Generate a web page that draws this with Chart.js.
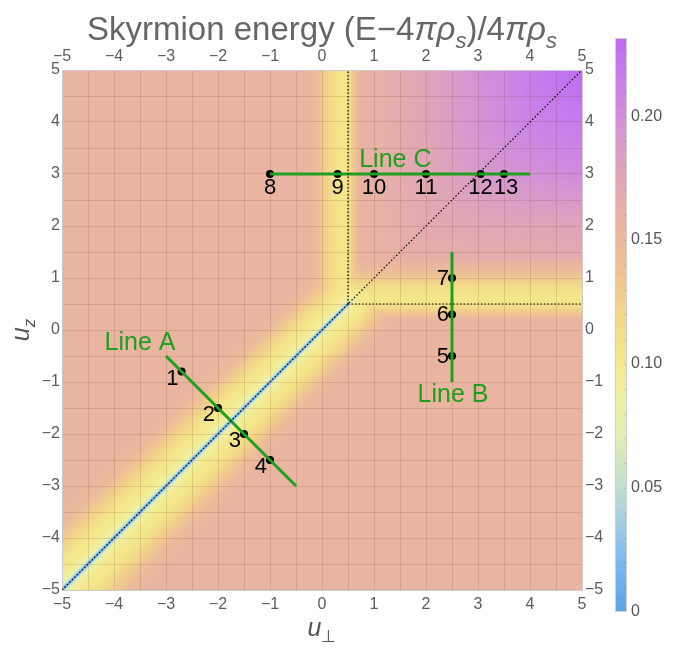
<!DOCTYPE html>
<html>
<head>
<meta charset="utf-8">
<script src="https://cdn.jsdelivr.net/npm/chart.js@4.4.1/dist/chart.umd.min.js"></script>
<style>
  html, body { margin: 0; padding: 0; background: #ffffff; }
  canvas { display: block; }
</style>
</head>
<body>
<canvas id="chart" width="681" height="649"></canvas>
<script>
// ---- axes ----
const axisMin = -5, axisMax = 5;
const colorbarTicks = [0, 0.05, 0.10, 0.15, 0.20];
const energyMax = 0.2315;

// ---- cut lines through the phase diagram ----
const lineAX = [-3, -0.5],  lineAY = [-0.5, -3];
const lineBX = [2.5, 2.5],  lineBY = [-1, 1.5];
const lineCX = [-1, 4],     lineCY = [3, 3];

// ---- numbered configurations along the cuts ----
const pointIds  = ['1', '2', '3', '4', '5', '6', '7', '8', '9', '10', '11', '12', '13'];
const pointLine = ['A', 'A', 'A', 'A', 'B', 'B', 'B', 'C', 'C', 'C', 'C', 'C', 'C'];
const pointX    = [-2.7, -2, -1.5, -1, 2.5, 2.5, 2.5, -1, 0.3, 1, 2, 3.05, 3.5];
const pointY    = [-0.8, -1.5, -2, -2.5, -0.5, 0.3, 1, 3, 3, 3, 3, 3, 3];

// ---- phase boundaries (dotted) ----
const junction = [0.5, 0.5];
const diagonalX = [-5, 5], diagonalY = [-5, 5];
const vertBoundX = [0.5, 0.5], vertBoundY = [0.5, 5];
const horzBoundX = [0.5, 5], horzBoundY = [0.5, 0.5];

// ---- energy landscape ----
const plateauEnergy = 0.155;
// rise in the upper-right quadrant, rows u_z = 0..5, columns u_perp = 0..5
const riseAxis = [0, 1, 2, 3, 4, 5];
const riseEnergy = [
  [0.155, 0.155, 0.155, 0.155, 0.155, 0.155],
  [0.155, 0.157, 0.158, 0.159, 0.160, 0.160],
  [0.155, 0.158, 0.170, 0.174, 0.176, 0.178],
  [0.155, 0.160, 0.174, 0.190, 0.200, 0.205],
  [0.155, 0.160, 0.176, 0.197, 0.212, 0.220],
  [0.155, 0.160, 0.177, 0.199, 0.218, 0.231]
];
// diagonal valley: energy vs perpendicular distance
const diagDist   = [0, 0.02, 0.05, 0.1, 0.2, 0.35, 0.5, 0.65, 0.85, 1.1];
const diagEnergy = [0.0, 0.03, 0.065, 0.09, 0.1, 0.105, 0.118, 0.132, 0.148, 0.155];
const diagWidthS = [-5, 0.5], diagWidth = [1.1, 0.85];
// vertical valley (u_perp near 0.42) and horizontal valley (u_z near 0.58)
const vertCentre = 0.42;
const vertDistL = [0, 0.12, 0.25, 0.38, 0.52, 0.7],        vertEnergyL = [0.104, 0.107, 0.117, 0.13, 0.145, 0.155];
const vertDistR = [0, 0.08, 0.15, 0.25, 0.35, 0.5],        vertEnergyR = [0.104, 0.11, 0.125, 0.145, 0.16, 0.19];
const horzCentre = 0.58;
const horzDistU = [0, 0.12, 0.25, 0.4, 0.55, 0.75, 0.95], horzEnergyU = [0.104, 0.107, 0.115, 0.13, 0.145, 0.158, 0.19];
const horzDistD = [0, 0.1, 0.2, 0.3, 0.42],               horzEnergyD = [0.104, 0.11, 0.125, 0.142, 0.155];

// ---- colour map ----
const paletteStops = [
  [0.000, '#5aa5ea'], [0.020, '#7cb8ee'], [0.035, '#a2cce4'], [0.050, '#c0ded0'],
  [0.070, '#e0eeb6'], [0.090, '#f1ef9e'], [0.105, '#f4e68a'], [0.125, '#f2d18a'],
  [0.140, '#eec096'], [0.155, '#e9b5a0'], [0.175, '#e0a6b6'], [0.195, '#d596d2'],
  [0.215, '#c880ea'], [0.2315, '#bc6cf2']
];
const paletteRGB = paletteStops.map(([v, h]) => [v, parseInt(h.slice(1, 3), 16), parseInt(h.slice(3, 5), 16), parseInt(h.slice(5, 7), 16)]);

function colourFor(e) {
  if (e <= paletteRGB[0][0]) return paletteRGB[0].slice(1);
  for (let i = 1; i < paletteRGB.length; i++) {
    if (e <= paletteRGB[i][0]) {
      const a = paletteRGB[i - 1], b = paletteRGB[i];
      const t = (e - a[0]) / (b[0] - a[0]);
      return [a[1] + (b[1] - a[1]) * t, a[2] + (b[2] - a[2]) * t, a[3] + (b[3] - a[3]) * t];
    }
  }
  return paletteRGB[paletteRGB.length - 1].slice(1);
}

function lookup(xs, ys, v) {
  if (v <= xs[0]) return ys[0];
  for (let i = 1; i < xs.length; i++) {
    if (v <= xs[i]) {
      const t = (v - xs[i - 1]) / (xs[i] - xs[i - 1]);
      return ys[i - 1] + (ys[i] - ys[i - 1]) * t;
    }
  }
  return ys[ys.length - 1];
}

// a valley only lowers the energy within its own profile
function valley(xs, ys, d) {
  return d > xs[xs.length - 1] ? Infinity : lookup(xs, ys, d);
}

function riseAt(p, z) {
  const last = riseAxis.length - 1;
  const fp = Math.min(Math.max(p, 0), riseAxis[last]);
  const fz = Math.min(Math.max(z, 0), riseAxis[last]);
  const i = Math.min(Math.floor(fp), last - 1), j = Math.min(Math.floor(fz), last - 1);
  const tp = fp - i, tz = fz - j;
  const e00 = riseEnergy[j][i], e10 = riseEnergy[j][i + 1];
  const e01 = riseEnergy[j + 1][i], e11 = riseEnergy[j + 1][i + 1];
  return (e00 * (1 - tp) + e10 * tp) * (1 - tz) + (e01 * (1 - tp) + e11 * tp) * tz;
}

function energyAt(p, z) {
  let e = (p > 0 && z > 0) ? riseAt(p, z) : plateauEnergy;
  // diagonal valley, ending at the junction
  const s = (p + z) / 2;
  const dDiag = s <= junction[0] ? Math.abs(p - z) / Math.SQRT2 : Math.hypot(p - junction[0], z - junction[1]);
  const w = lookup(diagWidthS, diagWidth, s);
  e = Math.min(e, valley(diagDist, diagEnergy, dDiag / w));
  // vertical valley above the junction
  const dx = p - vertCentre;
  const dv = z >= junction[1] ? Math.abs(dx) : Math.hypot(dx, junction[1] - z);
  e = Math.min(e, dx < 0 ? valley(vertDistL, vertEnergyL, dv) : valley(vertDistR, vertEnergyR, dv));
  // horizontal valley right of the junction
  const dz = z - horzCentre;
  const dh = p >= junction[0] ? Math.abs(dz) : Math.hypot(dz, junction[0] - p);
  e = Math.min(e, dz > 0 ? valley(horzDistU, horzEnergyU, dh) : valley(horzDistD, horzEnergyD, dh));
  return e;
}

// ---- fonts and colours ----
const FONT = "'Liberation Sans', Arial, Helvetica, sans-serif";
const textGrey = '#5c5c5c';
const green = '#1f9e1f';

// density plot painted beneath the grid
const densityPlugin = {
  id: 'density',
  beforeDraw(chart) {
    const { ctx, chartArea: a, scales } = chart;
    const xs = scales.x, ys = scales.y;
    const w = Math.round(a.right - a.left), h = Math.round(a.bottom - a.top);
    if (!this.img || this.w !== w || this.h !== h) {
      const off = document.createElement('canvas');
      off.width = w; off.height = h;
      const octx = off.getContext('2d');
      const img = octx.createImageData(w, h);
      for (let j = 0; j < h; j++) {
        const z = ys.getValueForPixel(a.top + j + 0.5);
        for (let i = 0; i < w; i++) {
          const p = xs.getValueForPixel(a.left + i + 0.5);
          const c = colourFor(energyAt(p, z));
          const k = (j * w + i) * 4;
          img.data[k] = c[0]; img.data[k + 1] = c[1]; img.data[k + 2] = c[2]; img.data[k + 3] = 255;
        }
      }
      octx.putImageData(img, 0, 0);
      this.img = off; this.w = w; this.h = h;
    }
    ctx.drawImage(this.img, a.left, a.top);
  }
};

// text with italic runs and subscripts
function drawRich(ctx, runs, x, y, size, align) {
  const fontOf = r => `${r.italic ? 'italic ' : ''}${r.sub ? Math.round(size * 0.66) : size}px ${FONT}`;
  const widths = runs.map(r => { ctx.font = fontOf(r); return ctx.measureText(r.t).width; });
  const total = widths.reduce((s, v) => s + v, 0);
  let cx = align === 'center' ? x - total / 2 : x;
  runs.forEach((r, i) => {
    ctx.font = fontOf(r);
    ctx.textAlign = 'left';
    ctx.textBaseline = 'alphabetic';
    ctx.fillText(r.t, cx, y + (r.sub ? size * 0.24 : 0));
    cx += widths[i];
  });
}

const annotationPlugin = {
  id: 'annotations',
  afterDatasetsDraw(chart) {
    const { ctx, scales: { x, y } } = chart;
    ctx.save();
    // configuration numbers
    ctx.fillStyle = '#000';
    ctx.font = `22px ${FONT}`;
    pointIds.forEach((id, i) => {
      const px = x.getPixelForValue(pointX[i]), py = y.getPixelForValue(pointY[i]);
      if (pointLine[i] === 'A') {
        ctx.textAlign = 'right'; ctx.textBaseline = 'middle';
        ctx.fillText(id, px - 3, py + 7);
      } else if (pointLine[i] === 'B') {
        ctx.textAlign = 'right'; ctx.textBaseline = 'middle';
        ctx.fillText(id, px - 3, py + 1);
      } else {
        ctx.textAlign = 'center'; ctx.textBaseline = 'middle';
        ctx.fillText(id, px + (id === '13' ? 2 : 0), py + 14);
      }
    });
    // cut line names
    ctx.fillStyle = green;
    ctx.font = `25px ${FONT}`;
    ctx.textAlign = 'center'; ctx.textBaseline = 'alphabetic';
    ctx.fillText('Line A', x.getPixelForValue(-3.5), y.getPixelForValue(-0.38));
    ctx.fillText('Line B', x.getPixelForValue(2.52), y.getPixelForValue(-1.38));
    ctx.fillText('Line C', x.getPixelForValue(1.41), y.getPixelForValue(3.13));
    ctx.restore();
  },
  afterDraw(chart) {
    const { ctx, chartArea: a } = chart;
    ctx.save();
    // title
    ctx.fillStyle = '#666';
    drawRich(ctx, [
      { t: 'Skyrmion energy (E\u22124' }, { t: '\u03c0\u03c1', italic: true }, { t: 's', italic: true, sub: true },
      { t: ')/4' }, { t: '\u03c0\u03c1', italic: true }, { t: 's', italic: true, sub: true }
    ], (a.left + a.right) / 2, 40, 33, 'center');
    // axis titles
    ctx.fillStyle = '#555';
    drawRich(ctx, [{ t: 'u', italic: true }, { t: '\u22a5', sub: true }], (a.left + a.right) / 2, 636, 25, 'center');
    ctx.save();
    ctx.translate(29, (a.top + a.bottom) / 2);
    ctx.rotate(-Math.PI / 2);
    drawRich(ctx, [{ t: 'u', italic: true }, { t: 'z', italic: true, sub: true }], 0, 0, 25, 'center');
    ctx.restore();
    // colour bar
    const bx = 615, bw = 12, bTop = 38, bBot = 612;
    const toY = v => bBot - (v / energyMax) * (bBot - bTop);
    for (let yy = bTop; yy < bBot; yy++) {
      const c = colourFor(energyMax * (bBot - yy - 0.5) / (bBot - bTop));
      ctx.fillStyle = `rgb(${c[0] | 0},${c[1] | 0},${c[2] | 0})`;
      ctx.fillRect(bx, yy, bw, 1);
    }
    ctx.strokeStyle = 'rgba(0,0,0,0.12)';
    ctx.lineWidth = 1;
    for (let v = 0.01; v < energyMax; v += 0.01) {
      const ty = Math.round(toY(v)) + 0.5;
      ctx.beginPath(); ctx.moveTo(bx + bw - 3, ty); ctx.lineTo(bx + bw, ty); ctx.stroke();
    }
    ctx.strokeStyle = '#cfcfcf';
    ctx.strokeRect(bx + 0.5, bTop + 0.5, bw - 1, bBot - bTop - 1);
    ctx.fillStyle = '#555';
    ctx.font = `16px ${FONT}`;
    ctx.textAlign = 'left'; ctx.textBaseline = 'middle';
    colorbarTicks.forEach(v => {
      ctx.fillText(v === 0 ? '0' : v.toFixed(2), bx + bw + 4, toY(v));
    });
    ctx.restore();
  }
};

const fmtTick = v => Number.isInteger(v) ? (v < 0 ? '\u2212' + (-v) : String(v)) : '';
const tickFont = { family: FONT, size: 16 };
const gridColour = 'rgba(110,55,40,0.16)';
const frameColour = '#cbcbcb';

const toPts = (xs, ys) => xs.map((v, i) => ({ x: v, y: ys[i] }));
const dotted = (xs, ys) => ({
  type: 'line', data: toPts(xs, ys), borderColor: '#000', borderWidth: 1.2,
  borderDash: [1.5, 2], pointRadius: 0, fill: false, showLine: true
});
const cut = (xs, ys) => ({
  type: 'line', data: toPts(xs, ys), borderColor: green, borderWidth: 3,
  pointRadius: 0, fill: false, showLine: true
});

new Chart(document.getElementById('chart'), {
  type: 'scatter',
  data: {
    datasets: [
      dotted(diagonalX, diagonalY),
      dotted(vertBoundX, vertBoundY),
      dotted(horzBoundX, horzBoundY),
      cut(lineAX, lineAY),
      cut(lineBX, lineBY),
      cut(lineCX, lineCY),
      {
        type: 'scatter', data: toPts(pointX, pointY),
        backgroundColor: '#000', borderWidth: 0, pointRadius: 4
      }
    ]
  },
  options: {
    responsive: false,
    animation: false,
    devicePixelRatio: 1,
    layout: { padding: 0 },
    plugins: { legend: { display: false }, tooltip: { enabled: false }, title: { display: false } },
    scales: {
      x: {
        type: 'linear', position: 'bottom', min: axisMin, max: axisMax,
        ticks: { stepSize: 0.5, autoSkip: false, maxRotation: 0, callback: fmtTick, font: tickFont, color: textGrey, padding: 5 },
        grid: { color: gridColour, drawTicks: false, lineWidth: 1 },
        border: { display: true, color: frameColour },
        afterFit: s => { s.height = 59; }
      },
      x2: {
        type: 'linear', position: 'top', min: axisMin, max: axisMax,
        ticks: { stepSize: 1, autoSkip: false, maxRotation: 0, callback: fmtTick, font: tickFont, color: textGrey, padding: 4 },
        grid: { display: false, drawTicks: false },
        border: { display: true, color: frameColour },
        afterFit: s => { s.height = 70; }
      },
      y: {
        type: 'linear', position: 'left', min: axisMin, max: axisMax,
        ticks: { stepSize: 0.5, autoSkip: false, callback: fmtTick, font: tickFont, color: textGrey, padding: 2 },
        grid: { color: gridColour, drawTicks: false, lineWidth: 1 },
        border: { display: true, color: frameColour },
        afterFit: s => { s.width = 62; }
      },
      y2: {
        type: 'linear', position: 'right', min: axisMin, max: axisMax,
        ticks: { stepSize: 1, autoSkip: false, callback: fmtTick, font: tickFont, color: textGrey, padding: 3 },
        grid: { display: false, drawTicks: false },
        border: { display: true, color: frameColour },
        afterFit: s => { s.width = 99; }
      }
    }
  },
  plugins: [densityPlugin, annotationPlugin]
});
</script>
</body>
</html>
